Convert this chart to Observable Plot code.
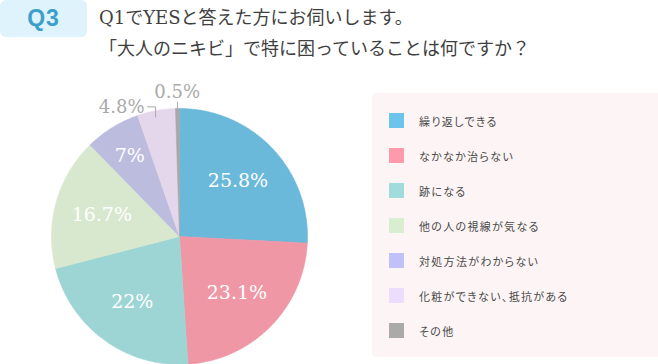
<!DOCTYPE html>
<html>
<head>
<meta charset="utf-8">
<script src="https://cdn.jsdelivr.net/npm/d3@7"></script>
<script src="https://cdn.jsdelivr.net/npm/@observablehq/plot@0.6"></script>
<style>
  html, body { margin: 0; padding: 0; background: #ffffff; }
  #wrap { position: relative; width: 658px; height: 364px; overflow: hidden; font-family: "Noto Sans CJK JP", "Noto Sans", sans-serif; }
  #badge { position: absolute; left: 0; top: 0; width: 87px; height: 37px; background: #def3fb; border-radius: 6px;
           color: #3c9fcb; font-family: "Liberation Sans", Roboto, sans-serif; font-weight: bold; font-size: 23px;
           line-height: 37px; text-align: center; letter-spacing: 1px; }
  .tline { position: absolute; left: 99px; font-size: 18px; line-height: 30px; color: #3f3f3f; white-space: nowrap;
           font-family: "DejaVu Serif", "Noto Sans CJK JP", serif; }
  #chart { position: absolute; left: 0; top: 70px; }
  #legend { position: absolute; left: 372px; top: 93px; width: 290px; height: 264px; background: #fdf5f5; border-radius: 4px; }
  .lrow { position: absolute; left: 17px; height: 15px; display: flex; align-items: center; }
  .lsw { width: 15px; height: 15px; margin-right: 15px; }
  .ltx { font-size: 11px; color: #4a4a4a; letter-spacing: 1.3px; font-feature-settings: "palt"; white-space: nowrap; }
</style>
</head>
<body>
<div id="wrap">
  <div id="badge">Q3</div>
  <div class="tline" id="t1" style="top:3px"></div>
  <div class="tline" id="t2" style="top:34px"></div>
  <div id="chart"></div>
  <div id="legend"></div>
</div>
<script>
// ---- data ----
const titleLines = ["Q1でYESと答えた方にお伺いします。", "「大人のニキビ」で特に困っていることは何ですか？"];
const categories = ["繰り返しできる", "なかなか治らない", "跡になる", "他の人の視線が気なる", "対処方法がわからない", "化粧ができない、抵抗がある", "その他"];
const values = [25.8, 23.1, 22, 16.7, 7, 4.8, 0.5];
const sliceColors = ["#6ab8da", "#ef97a5", "#9dd5d4", "#d8e8cf", "#bcbcdf", "#e5d7eb", "#a8a8a8"];
const legendColors = ["#6cc4ea", "#fe9aab", "#a0dcdc", "#d9edd1", "#c1c1f9", "#ecdcfd", "#aaaaaa"];

document.getElementById("t1").textContent = titleLines[0];
document.getElementById("t2").textContent = titleLines[1];

// legend
const legend = document.getElementById("legend");
categories.forEach((c, i) => {
  const row = document.createElement("div");
  row.className = "lrow";
  row.style.top = (20 + i * 35) + "px";
  const sw = document.createElement("div");
  sw.className = "lsw";
  sw.style.background = legendColors[i];
  const tx = document.createElement("div");
  tx.className = "ltx";
  tx.textContent = c;
  row.appendChild(sw); row.appendChild(tx);
  legend.appendChild(row);
});

// ---- pie geometry from data ----
const rows = categories.map((c, i) => ({cat: c, value: values[i]}));
const arcs = d3.pie().sort(null).value(d => d.value).startAngle(0).endAngle(2 * Math.PI)(rows);
const pts = [];
arcs.forEach(a => {
  const c = a.data.cat;
  pts.push({cat: c, x: 0, y: 0});
  const n = Math.max(2, Math.ceil((a.endAngle - a.startAngle) / 0.01));
  for (let k = 0; k <= n; k++) {
    const t = a.startAngle + (a.endAngle - a.startAngle) * k / n;
    pts.push({cat: c, x: Math.sin(t), y: Math.cos(t)});
  }
  pts.push({cat: c, x: 0, y: 0});
});
const polar = (ang, r) => ({x: r * Math.sin(ang), y: r * Math.cos(ang)});
const mid = a => (a.startAngle + a.endAngle) / 2;

const px = 1 / 128; // one pixel in domain units (radius = 128px)
const inside = arcs.filter(a => a.data.value >= 6).map(a => {
  const p = polar(mid(a), a.data.value < 10 ? 0.74 : 0.63);
  return {...p, label: a.data.value + "%"};
});
const elbowArcs = arcs.filter(a => a.data.value >= 1 && a.data.value < 6);
const topArcs = arcs.filter(a => a.data.value < 1);

const leaders = [];
const outLabelsLeft = [];
elbowArcs.forEach((a, i) => {
  const e = polar(mid(a), 1.03);
  leaders.push({g: "e" + i, x: e.x, y: e.y - 10 * px});
  leaders.push({g: "e" + i, x: e.x, y: e.y});
  leaders.push({g: "e" + i, x: e.x - 8 * px, y: e.y});
  outLabelsLeft.push({x: e.x - 11 * px, y: e.y, label: a.data.value + "%"});
});
const outLabelsTop = [];
topArcs.forEach((a, i) => {
  const p0 = polar(mid(a), 0.97), p1 = polar(mid(a), 1.05), pt = polar(mid(a), 1.13);
  leaders.push({g: "t" + i, x: p0.x, y: p0.y});
  leaders.push({g: "t" + i, x: p1.x, y: p1.y});
  outLabelsTop.push({x: pt.x, y: pt.y, label: a.data.value + "%"});
});

const cx = 179, cy = 166, R = 128;
const plot = Plot.plot({
  width: 360,
  height: 294,
  margin: 0,
  style: {background: "transparent", overflow: "visible"},
  x: {domain: [-1, 1], range: [cx - R, cx + R], axis: null},
  y: {domain: [-1, 1], range: [cy + R, cy - R], axis: null},
  color: {domain: categories, range: sliceColors},
  marks: [
    Plot.line(pts, {x: "x", y: "y", z: "cat", fill: "cat", stroke: "cat", strokeWidth: 0.6, curve: "linear"}),
    Plot.line(leaders, {x: "x", y: "y", z: "g", stroke: "#a9a9a9", strokeWidth: 1, curve: "linear"}),
    Plot.text(inside, {x: "x", y: "y", text: "label", fill: "white", fontSize: 19, fontFamily: "DejaVu Serif", ariaLabel: "pct-in"}),
    Plot.text(outLabelsLeft, {x: "x", y: "y", text: "label", fill: "#a9a9a9", fontSize: 18, fontFamily: "DejaVu Serif", textAnchor: "end", ariaLabel: "pct-out"}),
    Plot.text(outLabelsTop, {x: "x", y: "y", text: "label", fill: "#a9a9a9", fontSize: 18, fontFamily: "DejaVu Serif", ariaLabel: "pct-out"})
  ]
});
document.getElementById("chart").appendChild(plot);

// smaller percent sign
d3.select(plot).selectAll('g[aria-label="pct-in"] text, g[aria-label="pct-out"] text').each(function() {
  const t = this.textContent;
  if (t.endsWith("%")) {
    const inner = this.closest('g[aria-label="pct-in"]') ? 13 : 12;
    const sel = d3.select(this);
    sel.text(t.slice(0, -1));
    sel.append("tspan").attr("font-size", inner).text("%");
  }
});
</script>
</body>
</html>
